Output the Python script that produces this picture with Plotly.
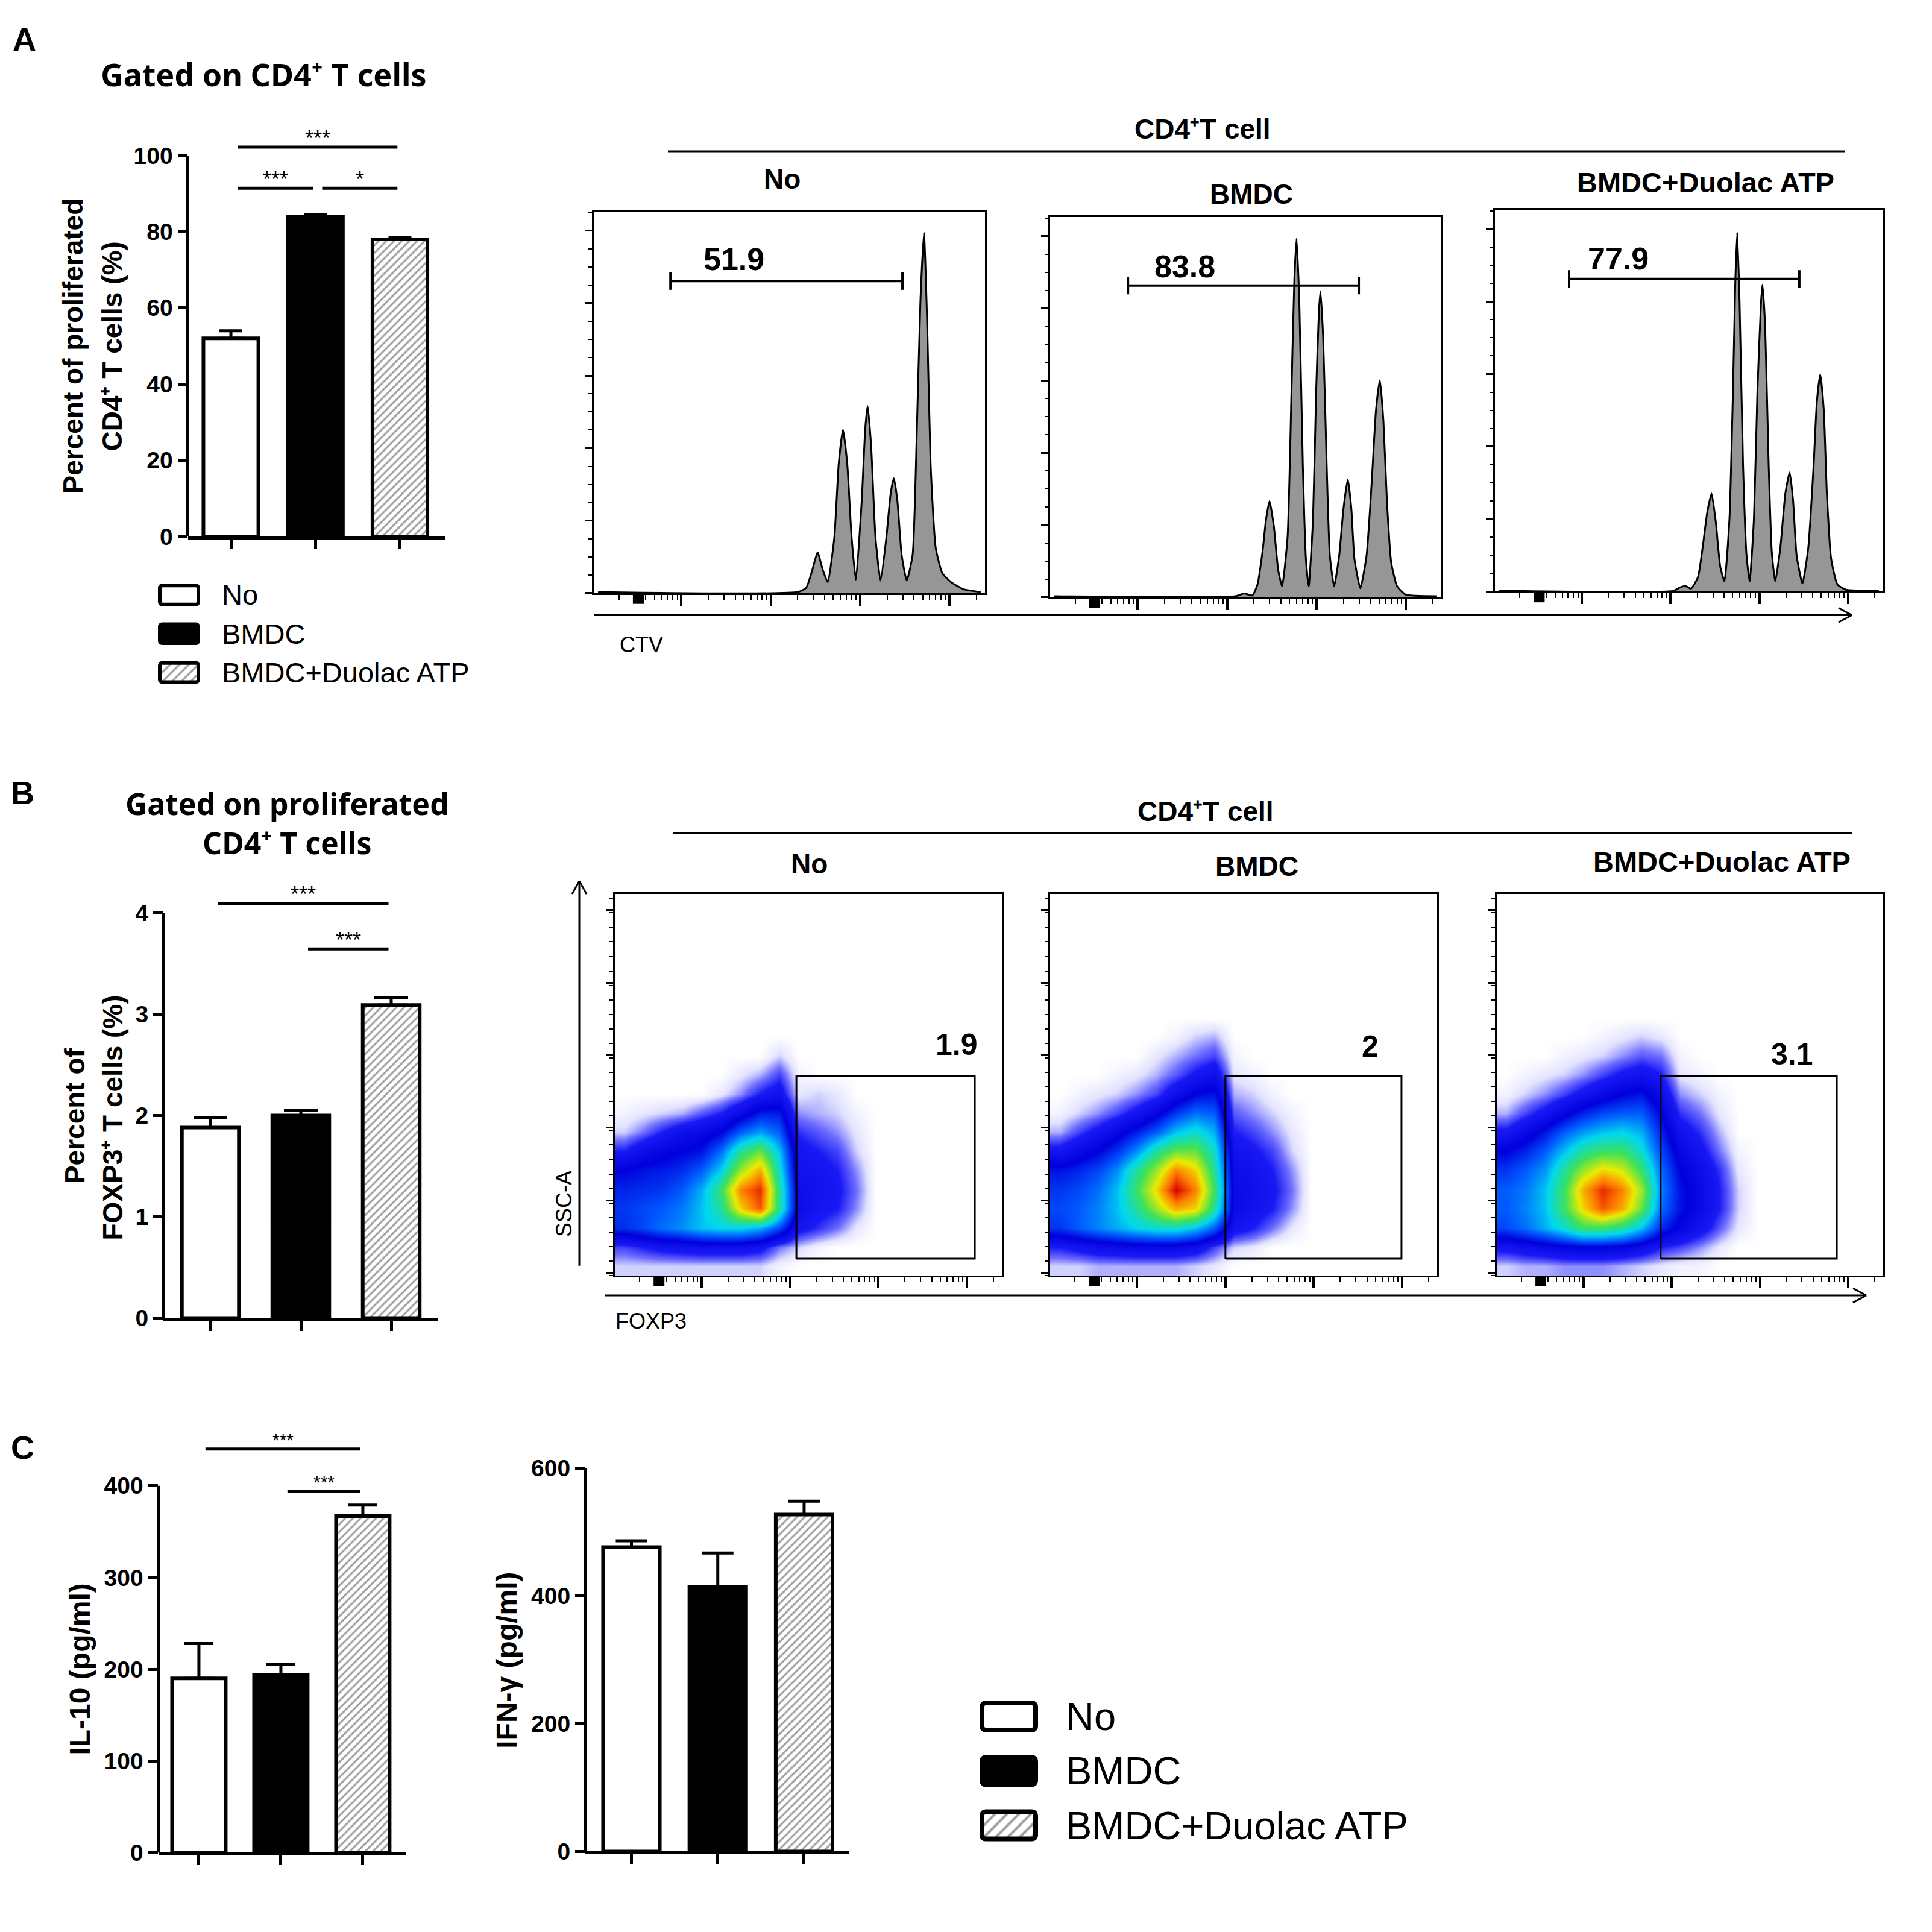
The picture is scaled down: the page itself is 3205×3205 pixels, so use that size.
import plotly.graph_objects as go

# ---------------- values ----------------
groups = ["No", "BMDC", "BMDC+Duolac ATP"]

# A - percent of proliferated CD4+ T cells (mean, SEM)
prolif_mean = [52.0, 84.0, 78.0]
prolif_sem = [2.0, 0.4, 0.5]
prolif_sig_pairs = [(0, 2), (0, 1), (1, 2)]
prolif_sig_y = [102.2, 91.4, 91.4]
prolif_sig_text = ["***", "***", "*"]

# B - percent of FOXP3+ T cells
foxp3_mean = [1.88, 2.00, 3.09]
foxp3_sem = [0.10, 0.05, 0.07]
foxp3_sig_pairs = [(0, 2), (1, 2)]
foxp3_sig_y = [4.094, 3.643]
foxp3_sig_text = ["***", "***"]

# C - cytokines (pg/ml)
il10_mean = [190, 194, 367]
il10_sem = [38, 11, 12]
il10_sig_pairs = [(0, 2), (1, 2)]
il10_sig_y = [440, 394]
il10_sig_text = ["***", "***"]

ifng_mean = [476, 414, 527]
ifng_sem = [10, 53, 21]

# CTV histograms: channel (0-1000) and count (% of frame height)
ctv_no_x = [11, 522, 543, 559, 572, 585, 598, 615, 626, 637, 648, 659, 670, 685, 694, 700, 709, 720,
            733, 748, 759, 767, 776, 787, 800, 815, 826, 835, 844, 852, 861, 874, 891, 913, 946, 989]
ctv_no_y = [0.3, 0.3, 1.4, 6.2, 10.7, 6.2, 2.9, 14.7, 33.8, 42.8, 33.8, 14.7, 3.5, 24.3, 43.3, 49.0, 38.5, 14.7,
            3.3, 14.7, 26.2, 30.1, 24.3, 10.0, 3.3, 10.0, 43.3, 76.6, 94.4, 71.8, 33.8, 11.9, 5.2, 2.9, 1.0, 0.3]

ctv_bmdc_x = [11, 474, 496, 517, 530, 543, 552, 561, 572, 583, 593, 607, 617, 624, 630, 637, 646, 654, 661, 672,
              680, 687, 691, 698, 707, 715, 726, 739, 750, 761, 770, 778, 793, 809, 822, 833, 843, 852, 861, 872,
              887, 909, 989]
ctv_bmdc_y = [0.3, 0.3, 1.0, 0.5, 3.3, 12.0, 20.5, 25.3, 18.6, 7.2, 2.9, 15.8, 54.0, 82.6, 94.3, 77.9, 34.9, 9.9,
              2.9, 20.5, 54.0, 74.9, 80.5, 68.3, 34.9, 11.0, 2.9, 11.0, 23.4, 31.0, 23.4, 10.0, 2.4, 11.0, 30.1,
              49.2, 57.1, 46.4, 25.3, 9.1, 2.9, 0.7, 0.3]

ctv_duolac_x = [11, 459, 477, 490, 505, 523, 536, 547, 558, 569, 580, 591, 604, 613, 619, 624, 630, 639, 648, 656,
                667, 676, 685, 689, 696, 705, 713, 722, 735, 748, 759, 768, 777, 792, 807, 821, 829, 838, 847, 855,
                866, 882, 904, 989]
ctv_duolac_y = [0.2, 0.2, 1.1, 1.5, 0.8, 3.8, 12.4, 20.9, 25.7, 18.1, 6.7, 2.7, 19.0, 52.3, 80.8, 94.1, 76.1, 33.3,
                9.5, 2.7, 19.0, 52.3, 75.1, 80.4, 69.4, 33.3, 10.5, 2.7, 11.4, 25.7, 31.2, 23.8, 9.5, 2.1, 11.4,
                33.3, 49.5, 56.9, 47.6, 25.7, 8.6, 1.9, 0.5, 0.2]

ctv_gate_lo = [196, 199, 191]
ctv_gate_hi = [789, 789, 784]
ctv_gate_level = [81.8, 82.0, 81.9]
ctv_gate_pct = ["51.9", "83.8", "77.9"]

# FOXP3 vs SSC-A dot plots: estimated event density on a coarse grid (rows = SSC-A bins, bottom first)
foxp3_bins = [25, 75, 125, 175, 225, 275, 325, 375, 425, 475, 525, 575, 625, 675, 725]
ssc_bins = [25, 75, 125, 175, 225, 275, 325, 375, 425, 475, 525, 575, 625, 675, 725]

dens_no = [
    [0.3, 0.3, 0.3, 0.3, 0.3, 0.3, 0.3, 0.3, 0.1, 0, 0, 0, 0, 0, 0],
    [0.8, 1, 1.2, 1.3, 1.4, 1.4, 1.4, 1.2, 0.6, 0.3, 0.1, 0, 0, 0, 0],
    [2.5, 2.8, 3.2, 3.5, 4, 4.2, 4.2, 3.8, 2.8, 1.2, 0.9, 0.6, 0.2, 0, 0],
    [2.6, 2.8, 3, 3.3, 4, 5, 7.5, 9, 5, 1.5, 1.2, 1, 0.5, 0, 0],
    [2.4, 2.5, 2.6, 3, 3.8, 5.5, 8.5, 9.5, 5, 1.5, 1.3, 1.1, 0.6, 0, 0],
    [2, 2.2, 2.3, 2.5, 3, 4.2, 6.5, 8, 4.5, 1.3, 1.2, 1, 0.5, 0, 0],
    [1, 1.5, 1.8, 2, 2.2, 3.2, 5, 6, 4, 1.2, 1, 0.8, 0.3, 0, 0],
    [0.3, 0.6, 1, 1.4, 1.6, 2, 3, 3.6, 3, 0.9, 0.7, 0.5, 0.2, 0, 0],
    [0.1, 0.2, 0.3, 0.4, 0.7, 1, 1.6, 2.3, 2.3, 0.5, 0.4, 0.3, 0.1, 0, 0],
    [0, 0, 0, 0, 0, 0.2, 0.5, 1, 1.3, 0.2, 0.3, 0.2, 0, 0, 0],
    [0, 0, 0, 0, 0, 0, 0.2, 0.4, 0.8, 0.1, 0, 0, 0, 0, 0],
    [0, 0, 0, 0, 0, 0, 0, 0, 0.3, 0, 0, 0, 0, 0, 0],
    [0, 0, 0, 0, 0, 0, 0, 0, 0, 0, 0, 0, 0, 0, 0],
    [0, 0, 0, 0, 0, 0, 0, 0, 0, 0, 0, 0, 0, 0, 0],
    [0, 0, 0, 0, 0, 0, 0, 0, 0, 0, 0, 0, 0, 0, 0],
]
dens_bmdc = [
    [0.3, 0.3, 0.4, 0.4, 0.4, 0.4, 0.4, 0.3, 0.2, 0, 0, 0, 0, 0, 0],
    [1, 1.2, 1.4, 1.5, 1.6, 1.6, 1.6, 1.4, 0.8, 0.3, 0.2, 0, 0, 0, 0],
    [2.6, 3, 3.4, 3.8, 4.2, 4.5, 4.5, 4, 3, 1.3, 1, 0.6, 0.2, 0, 0],
    [2.8, 3, 3.4, 4, 5, 6.5, 8, 7.5, 5, 1.6, 1.3, 1, 0.5, 0, 0],
    [2.6, 2.8, 3.2, 4, 5.5, 7.5, 10, 8.5, 5.5, 1.6, 1.4, 1.1, 0.6, 0, 0],
    [2.2, 2.4, 2.8, 3.5, 5, 6.5, 8.5, 7.5, 5, 1.5, 1.3, 1, 0.5, 0, 0],
    [1.2, 1.6, 2, 2.6, 3.5, 5, 6, 6, 4.5, 1.3, 1.1, 0.8, 0.3, 0, 0],
    [0.4, 0.8, 1.2, 1.7, 2.3, 3, 4, 4.5, 3.8, 1, 0.8, 0.5, 0.2, 0, 0],
    [0.1, 0.3, 0.5, 0.8, 1.2, 1.8, 2.6, 3.2, 3, 0.7, 0.5, 0.3, 0.1, 0, 0],
    [0, 0.1, 0.2, 0.3, 0.5, 0.8, 1.4, 2, 2.2, 0.4, 0.3, 0.1, 0, 0, 0],
    [0, 0, 0, 0.1, 0.2, 0.4, 0.7, 1.1, 1.4, 0.2, 0.1, 0, 0, 0, 0],
    [0, 0, 0, 0, 0, 0.2, 0.4, 0.6, 0.8, 0.1, 0, 0, 0, 0, 0],
    [0, 0, 0, 0, 0, 0, 0.1, 0.3, 0.4, 0, 0, 0, 0, 0, 0],
    [0, 0, 0, 0, 0, 0, 0, 0, 0, 0, 0, 0, 0, 0, 0],
    [0, 0, 0, 0, 0, 0, 0, 0, 0, 0, 0, 0, 0, 0, 0],
]
dens_duolac = [
    [0.3, 0.4, 0.4, 0.5, 0.5, 0.5, 0.4, 0.3, 0.2, 0.1, 0.1, 0, 0, 0, 0],
    [1.2, 1.4, 1.6, 1.8, 1.9, 1.9, 1.8, 1.5, 1, 0.8, 0.5, 0.2, 0, 0, 0],
    [2.8, 3.2, 3.8, 4.5, 5.5, 5.5, 5, 4, 2.5, 1.8, 1.3, 0.7, 0.2, 0, 0],
    [3, 3.4, 4, 5.5, 7.5, 9, 8, 6, 3.2, 2.2, 1.6, 1, 0.3, 0, 0],
    [3, 3.3, 4, 5.5, 8, 9.5, 8.5, 6.5, 3.4, 2.2, 1.6, 1, 0.3, 0, 0],
    [2.6, 3, 3.6, 5, 6.5, 7.5, 7, 5.5, 3.2, 2, 1.5, 0.9, 0.2, 0, 0],
    [2, 2.4, 3, 4, 5, 5.5, 5.5, 4.5, 2.8, 1.7, 1.2, 0.6, 0.1, 0, 0],
    [1.1, 1.6, 2.2, 3, 3.6, 4, 4.2, 3.8, 2.4, 1.3, 0.9, 0.4, 0, 0, 0],
    [0.4, 0.8, 1.2, 1.8, 2.4, 2.8, 3, 3, 2, 0.9, 0.6, 0.2, 0, 0, 0],
    [0.1, 0.3, 0.5, 0.8, 1.2, 1.6, 2, 2.2, 1.5, 0.5, 0.3, 0.1, 0, 0, 0],
    [0, 0.1, 0.2, 0.3, 0.5, 0.8, 1.1, 1.3, 1, 0.2, 0.1, 0, 0, 0, 0],
    [0, 0, 0, 0.1, 0.2, 0.3, 0.5, 0.7, 0.6, 0.1, 0, 0, 0, 0, 0],
    [0, 0, 0, 0, 0, 0.1, 0.2, 0.3, 0.2, 0, 0, 0, 0, 0, 0],
    [0, 0, 0, 0, 0, 0, 0, 0, 0, 0, 0, 0, 0, 0, 0],
    [0, 0, 0, 0, 0, 0, 0, 0, 0, 0, 0, 0, 0, 0, 0],
]

foxp3_gate_x0 = [469, 453, 424]
foxp3_gate_x1 = [930, 908, 880]
foxp3_gate_y0 = 44
foxp3_gate_y1 = 523
foxp3_gate_pct = ["1.9", "2", "3.1"]

# ---------------- styling / layout helpers ----------------
# the page body keeps an 8px margin, so the figure is 16px smaller than the window
OFF = 8
FW = FH = 3205 - 2 * OFF
FONT = "Liberation Sans"
TITLE_FONT = "Noto Sans"
BAR_FILL = ["white", "black", "white"]
BAR_HATCH = ["", "", "/"]
DOT_SCALE = [[0, "rgb(255,255,255)"], [0.025, "rgb(225,225,255)"], [0.06, "rgb(110,110,255)"],
             [0.1, "rgb(25,25,245)"], [0.2, "rgb(0,0,220)"], [0.3, "rgb(0,90,255)"],
             [0.42, "rgb(0,215,240)"], [0.56, "rgb(60,225,90)"], [0.72, "rgb(235,235,0)"],
             [0.86, "rgb(255,120,0)"], [1, "rgb(215,0,0)"]]

fig = go.Figure()
layout = {}
annotations = []
shapes = []


def px(a):
    return (a - OFF) / FW


def py(b):
    return 1 - (b - OFF) / FH


def dom_x(a, b):
    return [px(a), px(b)]


def dom_y(top, bottom):
    return [py(bottom), py(top)]


def ids(n):
    if n == 1:
        return "x", "y", "xaxis", "yaxis"
    return f"x{n}", f"y{n}", f"xaxis{n}", f"yaxis{n}"


def text(x, y, s, size, bold=False, family=FONT, xanchor="center", angle=0):
    annotations.append(dict(xref="paper", yref="paper", x=px(x), y=py(y), text=s,
                            showarrow=False, xanchor=xanchor, yanchor="middle", textangle=angle,
                            font=dict(family=family, size=size, color="black",
                                      weight="bold" if bold else "normal")))


def pline(x0, y0, x1, y1, w=3):
    shapes.append(dict(type="line", xref="paper", yref="paper", x0=px(x0), y0=py(y0),
                       x1=px(x1), y1=py(y1), line=dict(color="black", width=w)))


def bar_panel(n, xpx, ypx, xr, yr, dtick, mean, sem, capw, barw, spine_top,
              pairs=(), sig_y=(), sig_txt=(), star=36):
    xa, ya, xk, yk = ids(n)
    cats = list(range(len(groups)))
    fig.add_trace(go.Bar(
        x=cats, y=mean, width=barw, xaxis=xa, yaxis=ya, showlegend=False, hoverinfo="skip",
        marker=dict(color=BAR_FILL, line=dict(color="black", width=6),
                    pattern=dict(shape=BAR_HATCH, fgcolor="black", bgcolor="white", size=9, solidity=0.35)),
        error_y=dict(type="data", symmetric=False, array=sem, arrayminus=[0] * len(sem),
                     color="black", thickness=5, width=capw)))
    layout[xk] = dict(domain=dom_x(*xpx), anchor=ya, range=xr, showline=True, linecolor="black",
                      linewidth=5, ticks="outside", ticklen=16, tickwidth=5, tickcolor="black",
                      tickvals=cats, showticklabels=False, showgrid=False, zeroline=False)
    layout[yk] = dict(domain=dom_y(*ypx), anchor=xa, range=yr, showline=False, ticks="outside",
                      ticklen=16, tickwidth=5, tickcolor="black", tick0=0, dtick=dtick,
                      tickfont=dict(family=FONT, size=39, color="black", weight="bold"),
                      showgrid=False, zeroline=False)
    shapes.append(dict(type="line", xref=f"{xa} domain", yref=ya, x0=0, x1=0, y0=0, y1=spine_top,
                       line=dict(color="black", width=5)))
    for (i, j), h, t in zip(pairs, sig_y, sig_txt):
        fig.add_trace(go.Scatter(x=[i + 0.08, j - 0.03], y=[h, h], mode="lines",
                                 line=dict(color="black", width=5), xaxis=xa, yaxis=ya,
                                 showlegend=False, hoverinfo="skip"))
        annotations.append(dict(xref=xa, yref=ya, x=(i + j) / 2 + 0.025, y=h, yshift=15, text=t,
                                showarrow=False, font=dict(family=FONT, size=star, color="black")))


def flow_axes(n, frame, yr, ydtick, ytick0, yminor, ln):
    x0, x1, top, bottom = frame
    xa, ya, xk, yk = ids(n)
    la, _, lk, _ = ids(ln)
    layout[xk] = dict(domain=dom_x(x0, x1), anchor=ya, range=[0, 1000], showline=True, mirror=True,
                      linecolor="black", linewidth=3, ticks="", showticklabels=False,
                      showgrid=False, zeroline=False)
    layout[yk] = dict(domain=dom_y(top, bottom), anchor=xa, range=yr, showline=True, mirror=True,
                      linecolor="black", linewidth=3, ticks="outside", ticklen=12, tickwidth=3,
                      tickcolor="black", tick0=ytick0, dtick=ydtick,
                      minor=dict(ticks="outside", ticklen=6, tickwidth=2, tickcolor="black", dtick=yminor),
                      showticklabels=False, showgrid=False, zeroline=False)
    # decade ticks along the bottom of the cytometry plots
    layout[lk] = dict(overlaying=xa, anchor=ya, type="log", range=[0.0197, 4.396], ticks="outside",
                      ticklen=20, tickwidth=4, tickcolor="black", dtick=1,
                      minor=dict(ticks="outside", ticklen=10, tickwidth=2, tickcolor="black", dtick="D1"),
                      showline=False, showticklabels=False, showgrid=False, zeroline=False)
    fig.add_trace(go.Scatter(x=[None], y=[None], xaxis=la, yaxis=ya, showlegend=False, hoverinfo="skip"))
    # packed tick marks around the zero of the display scale
    shapes.append(dict(type="rect", xref=f"{xa} domain", yref=f"{ya} domain", x0=0.100, x1=0.128,
                       y0=0, y1=-18 / (bottom - top), fillcolor="black", line=dict(width=0)))
    return xa, ya


def swatches(n, xpx, ypx, barw, lw, hsize, radius):
    xa, ya, xk, yk = ids(n)
    fig.add_trace(go.Bar(
        x=[1] * len(groups), y=list(range(len(groups))), base=0, orientation="h", width=barw,
        xaxis=xa, yaxis=ya, showlegend=False, hoverinfo="skip",
        marker=dict(color=BAR_FILL, line=dict(color="black", width=lw), cornerradius=radius,
                    pattern=dict(shape=BAR_HATCH, fgcolor="black", bgcolor="white", size=hsize, solidity=0.3))))
    layout[xk] = dict(domain=dom_x(*xpx), anchor=ya, range=[-0.1, 1.1], visible=False)
    layout[yk] = dict(domain=dom_y(*ypx), anchor=xa, range=[len(groups) - 0.5, -0.5], visible=False)


# ---------------- A: bar chart ----------------
bar_panel(1, (311.5, 738.5), (201.6, 880.8), [-0.51, 2.535], [0, 106], 20, prolif_mean, prolif_sem,
          19, 0.65, 100, prolif_sig_pairs, prolif_sig_y, prolif_sig_text)
text(40, 44, "A", 54, bold=True)
text(438, 103, "Gated on CD4⁺ T cells", 52, bold=True, family=TITLE_FONT)
text(121, 561, "Percent of proliferated", 46, bold=True, angle=-90)
text(186, 561, "CD4⁺ T cells (%)", 46, bold=True, angle=-90)

swatches(17, (258.6, 335.4), (946.4, 1142.1), 0.49, 6, 11, 4)
for g, yy in zip(groups, [979, 1044.5, 1109.5]):
    text(366, yy, g, 47, xanchor="left")

# ---------------- A: CTV histograms ----------------
hist_frames = [(985, 1634, 334.5, 976), (1742, 2391, 343.7, 983), (2480, 3124, 331.5, 973.4)]
hist_x = [ctv_no_x, ctv_bmdc_x, ctv_duolac_x]
hist_y = [ctv_no_y, ctv_bmdc_y, ctv_duolac_y]
hist_label_xy = [(359, 87.5), (344, 87.0), (317, 87.2)]
for k in range(3):
    xa, ya = flow_axes(5 + k, hist_frames[k], [0, 100], 19, 0, 4.75, 11 + k)
    fig.add_trace(go.Scatter(x=hist_x[k], y=hist_y[k], mode="lines", fill="tozeroy",
                             fillcolor="rgb(150,150,150)",
                             line=dict(color="black", width=3, shape="spline", smoothing=0.5),
                             xaxis=xa, yaxis=ya, showlegend=False, hoverinfo="skip"))
    lo, hi, lv = ctv_gate_lo[k], ctv_gate_hi[k], ctv_gate_level[k]
    fig.add_trace(go.Scatter(x=[lo, hi, None, lo, lo, None, hi, hi],
                             y=[lv, lv, None, lv - 2.3, lv + 2.3, None, lv - 2.3, lv + 2.3],
                             mode="lines", line=dict(color="black", width=4),
                             xaxis=xa, yaxis=ya, showlegend=False, hoverinfo="skip"))
    annotations.append(dict(xref=xa, yref=ya, x=hist_label_xy[k][0], y=hist_label_xy[k][1],
                            text=ctv_gate_pct[k], showarrow=False,
                            font=dict(family=FONT, size=52, color="black", weight="bold")))

text(1995, 196, "CD4⁺T cell", 46, bold=True)
pline(1108, 233, 3061, 233, 3)
text(1297, 280, groups[0], 46, bold=True)
text(2076, 305, groups[1], 46, bold=True)
text(2829, 285, groups[2], 47, bold=True)
pline(985, 1013, 3072, 1013, 3)
pline(3050, 1001, 3072, 1013, 3)
pline(3050, 1025, 3072, 1013, 3)
text(1064, 1063, "CTV", 36)

# ---------------- B: bar chart ----------------
bar_panel(2, (271, 727), (1471, 2195), [-0.52, 2.52], [0, 4.25], 1, foxp3_mean, foxp3_sem,
          28, 0.63, 4, foxp3_sig_pairs, foxp3_sig_y, foxp3_sig_text)
text(37.5, 1312, "B", 54, bold=True)
text(476, 1363, "Gated on proliferated<br>CD4⁺ T cells", 50, bold=True, family=TITLE_FONT)
text(124, 1855, "Percent of", 46, bold=True, angle=-90)
text(187.5, 1858, "FOXP3⁺ T cells (%)", 46, bold=True, angle=-90)

# ---------------- B: FOXP3 dot plots ----------------
dot_frames = [(1020, 1662, 1481.5, 2123.5), (1742, 2384, 1481.5, 2123.5), (2483, 3124, 1481.5, 2123.5)]
dens = [dens_no, dens_bmdc, dens_duolac]
dot_label_xy = [(883, 605), (827, 600), (764, 579)]
for k in range(3):
    xa, ya = flow_axes(8 + k, dot_frames[k], [0, 1000], 190, 7, 38, 14 + k)
    fig.add_trace(go.Heatmap(x=foxp3_bins, y=ssc_bins, z=dens[k], zmin=0, zmax=10,
                             colorscale=DOT_SCALE, zsmooth="best", showscale=False,
                             xaxis=xa, yaxis=ya, hoverinfo="skip"))
    gx0, gx1 = foxp3_gate_x0[k], foxp3_gate_x1[k]
    fig.add_trace(go.Scatter(x=[gx0, gx1, gx1, gx0, gx0],
                             y=[foxp3_gate_y0, foxp3_gate_y0, foxp3_gate_y1, foxp3_gate_y1, foxp3_gate_y0],
                             mode="lines", line=dict(color="black", width=3),
                             xaxis=xa, yaxis=ya, showlegend=False, hoverinfo="skip"))
    annotations.append(dict(xref=xa, yref=ya, x=dot_label_xy[k][0], y=dot_label_xy[k][1],
                            text=foxp3_gate_pct[k], showarrow=False,
                            font=dict(family=FONT, size=50, color="black", weight="bold")))

text(2000, 1343, "CD4⁺T cell", 46, bold=True)
pline(1116, 1379, 3072, 1379, 3)
text(1342, 1431, groups[0], 46, bold=True)
text(2085, 1435, groups[1], 46, bold=True)
text(2856, 1428, groups[2], 47, bold=True)
pline(1004, 2157, 3096, 2157, 3)
pline(3074, 2145, 3096, 2157, 3)
pline(3074, 2169, 3096, 2157, 3)
text(1080, 2200, "FOXP3", 36)
pline(961, 2107, 961, 1460, 3)
pline(949, 1482, 961, 1460, 3)
pline(973, 1482, 961, 1460, 3)
text(935, 2003, "SSC-A", 36, angle=-90)

# ---------------- C: cytokines ----------------
bar_panel(3, (262.5, 674), (2407.6, 3094), [-0.496, 2.53], [0, 445], 100, il10_mean, il10_sem,
          24, 0.654, 400, il10_sig_pairs, il10_sig_y, il10_sig_text, star=30)
bar_panel(4, (971, 1408), (2447, 3092), [-0.534, 2.517], [0, 600], 200, ifng_mean, ifng_sem,
          26, 0.657, 600)
text(37.5, 2412, "C", 54, bold=True)
text(133, 2786, "IL-10 (pg/ml)", 48, bold=True, angle=-90)
text(841, 2770, "IFN-γ (pg/ml)", 48, bold=True, angle=-90)

swatches(18, (1620.1, 1726.9), (2819.25, 3093.75), 0.5, 8, 14, 6)
for g, yy in zip(groups, [2865, 2956, 3048]):
    text(1766, yy, g, 65, xanchor="left")

fig.update_layout(width=FW, height=FH, margin=dict(l=0, r=0, t=0, b=0),
                  paper_bgcolor="white", plot_bgcolor="white", showlegend=False,
                  annotations=annotations, shapes=shapes, **layout)
fig.write_html("out.html")
